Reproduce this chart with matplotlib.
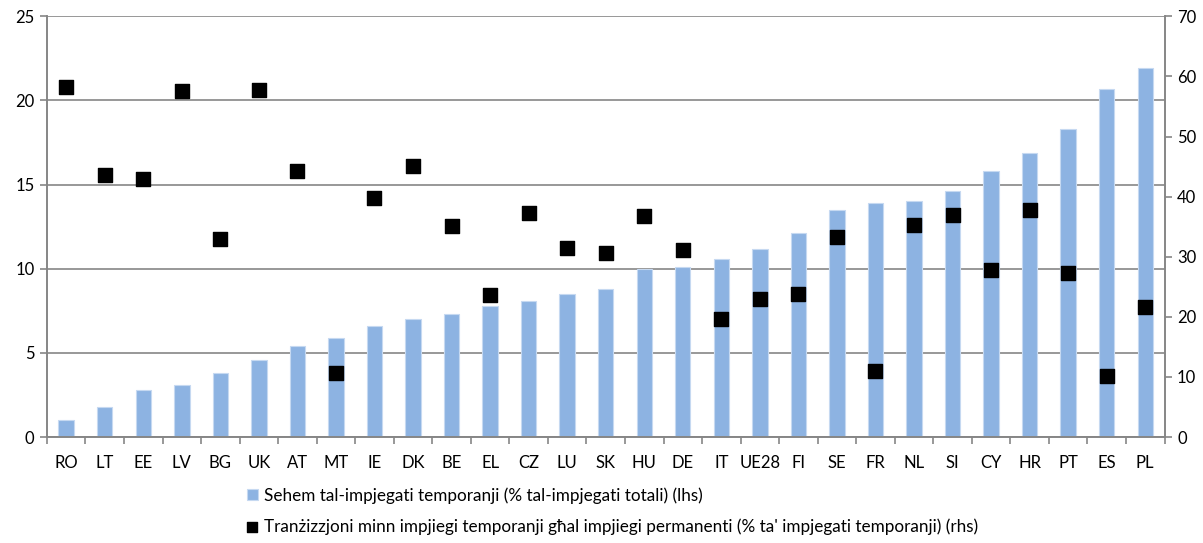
import numpy as np
import matplotlib.pyplot as plt

plt.rcParams['font.family'] = ['Lato', 'DejaVu Sans']

countries = ['RO', 'LT', 'EE', 'LV', 'BG', 'UK', 'AT', 'MT', 'IE', 'DK', 'BE', 'EL', 'CZ', 'LU', 'SK',
             'HU', 'DE', 'IT', 'UE28', 'FI', 'SE', 'FR', 'NL', 'SI', 'CY', 'HR', 'PT', 'ES', 'PL']
temp_share = [1.0, 1.8, 2.8, 3.1, 3.8, 4.6, 5.4, 5.9, 6.6, 7.0, 7.3, 7.8, 8.1, 8.5, 8.8,
              10.0, 10.1, 10.6, 11.2, 12.1, 13.5, 13.9, 14.0, 14.6, 15.8, 16.9, 18.3, 20.7, 21.9]
transition = [58.2, 43.6, 43.0, 57.6, 33.0, 57.7, 44.2, 10.6, 39.7, 45.1, 35.1, 23.7, 37.2, 31.5, 30.7,
              36.8, 31.1, 19.6, 22.9, 23.8, 33.3, 11.0, 35.3, 37.0, 27.8, 37.7, 27.3, 10.2, 21.7]

lab_bar = 'Sehem tal-impjegati temporanji (% tal-impjegati totali) (lhs)'
lab_sq = 'Tranżizzjoni minn impjiegi temporanji għal impjiegi permanenti (% ta\' impjegati temporanji) (rhs)'

grey = '#868686'
x = np.arange(len(countries))

fig = plt.figure(figsize=(12.03, 5.43), dpi=100)
ax = fig.add_axes([0.039, 0.195, 0.929, 0.775])
ax2 = ax.twinx()

ax.bar(x, temp_share, width=0.4, color='#8DB3E2', edgecolor='#C6D9F1', linewidth=0.8, zorder=2, label=lab_bar)
ax2.scatter(x, transition, marker='s', s=95, color='black', zorder=3, label=lab_sq)

ax.set_xlim(-0.5, len(countries) - 0.5)
ax.set_ylim(0, 25)
ax2.set_ylim(0, 70)
ax.set_yticks(range(0, 26, 5))
ax2.set_yticks(range(0, 71, 10))
ax.yaxis.grid(True, color=grey, linewidth=1.2, zorder=0)
ax.set_axisbelow(True)

ax.set_xticks(x)
ax.set_xticklabels(countries)
ax.set_xticks(np.arange(-0.5, len(countries), 1), minor=True)
ax.tick_params(axis='x', which='major', length=0, pad=13, labelsize=12)
ax.tick_params(axis='x', which='minor', length=5, color=grey, width=1.2, direction='out')
ax.tick_params(axis='y', length=5, color=grey, width=1.2, labelsize=12, pad=4)
ax2.tick_params(axis='y', length=5, color=grey, width=1.2, labelsize=12, pad=4)

for a in (ax, ax2):
    a.spines['top'].set_visible(False)
    for s in ('left', 'right', 'bottom'):
        a.spines[s].set_color(grey)
        a.spines[s].set_linewidth(1.2)

h1, l1 = ax.get_legend_handles_labels()
h2, l2 = ax2.get_legend_handles_labels()
fig.legend(h1 + h2, l1 + l2, loc='upper left', bbox_to_anchor=(0.205, 0.103), frameon=False,
           fontsize=12.3, handlelength=0.65, handleheight=0.65, handletextpad=0.35, labelspacing=0.85,
           borderaxespad=0, borderpad=0, markerscale=0.8)

fig.savefig('out.png', dpi=100)
